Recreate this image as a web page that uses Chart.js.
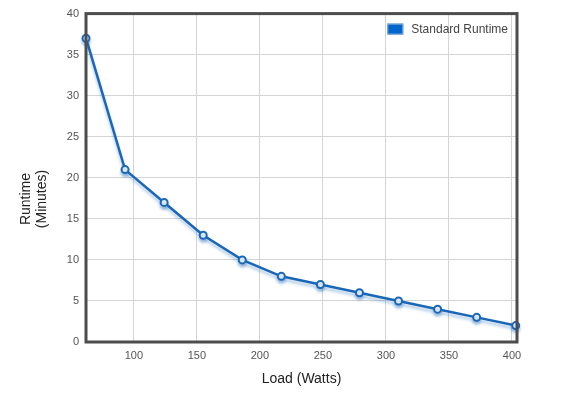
<!DOCTYPE html>
<html>
<head>
<meta charset="utf-8">
<script src="https://cdn.jsdelivr.net/npm/chart.js@4/dist/chart.umd.min.js"></script>
<style>
  html, body { margin: 0; padding: 0; background: #fff; }
  #wrap { width: 565px; height: 397px; }
</style>
</head>
<body>
<div id="wrap"><canvas id="myChart" width="565" height="397"></canvas></div>
<script>
// load in watts vs runtime in minutes
const loadWatts = [62, 93, 124, 155, 186, 217, 248, 279, 310, 341, 372, 403];
const runtimeMin = [37, 21, 17, 13, 10, 8, 7, 6, 5, 4, 3, 2];
const xTicks = [100, 150, 200, 250, 300, 350, 400];
const yTicks = [0, 5, 10, 15, 20, 25, 30, 35, 40];
const seriesName = 'Standard Runtime';

const lineBlue = '#1a67b8';
const fontFam = 'Liberation Sans, Arial, sans-serif';

// dark frame, legend box and axis titles
const framePlugin = {
  id: 'frame',
  afterDraw(chart) {
    const a = chart.chartArea;
    const ctx = chart.ctx;
    ctx.save();
    ctx.strokeStyle = '#4d4d4d';
    ctx.lineWidth = 3;
    ctx.strokeRect(a.left, a.top, a.right - a.left, a.bottom - a.top);

    // legend, top right inside plot
    ctx.font = '12px ' + fontFam;
    const tw = ctx.measureText(seriesName).width;
    const tx = a.right - 9 - tw;
    const bx = tx - 24;
    ctx.fillStyle = '#0066cc';
    ctx.fillRect(bx, a.top + 10, 16, 11);
    ctx.strokeStyle = '#8fb3dc';
    ctx.lineWidth = 1;
    ctx.strokeRect(bx + 0.5, a.top + 10.5, 15, 10);
    ctx.fillStyle = '#444';
    ctx.textBaseline = 'middle';
    ctx.textAlign = 'left';
    ctx.fillText(seriesName, tx, a.top + 16);

    // axis titles
    ctx.fillStyle = '#222';
    ctx.font = '14px ' + fontFam;
    ctx.textAlign = 'center';
    ctx.fillText('Load (Watts)', (a.left + a.right) / 2, 379);
    ctx.translate(0, 199);
    ctx.rotate(-Math.PI / 2);
    ctx.fillText('Runtime', 0, 26);
    ctx.fillText('(Minutes)', 0, 42);
    ctx.restore();
  }
};

// soft shadow under the line
const shadowPlugin = {
  id: 'lineShadow',
  beforeDatasetDraw(chart) {
    const ctx = chart.ctx;
    ctx.save();
    ctx.shadowColor = 'rgba(26, 103, 184, 0.35)';
    ctx.shadowOffsetY = 3;
    ctx.shadowBlur = 3;
  },
  afterDatasetDraw(chart) {
    chart.ctx.restore();
  }
};

const data = {
  datasets: [{
    label: seriesName,
    data: loadWatts.map((x, i) => ({ x: x, y: runtimeMin[i] })),
    borderColor: lineBlue,
    backgroundColor: '#0066cc',
    borderWidth: 2.5,
    pointRadius: 3.5,
    pointBorderWidth: 2,
    pointBackgroundColor: '#fff',
    pointBorderColor: lineBlue,
    tension: 0,
    clip: false
  }]
};

const config = {
  type: 'line',
  data: data,
  plugins: [shadowPlugin, framePlugin],
  options: {
    responsive: false,
    animation: false,
    layout: { padding: { left: 0, right: 48, top: 13, bottom: 0 } },
    plugins: {
      legend: { display: false },
      tooltip: { enabled: false }
    },
    scales: {
      x: {
        type: 'linear',
        min: 62,
        max: 404,
        afterBuildTicks: axis => { axis.ticks = xTicks.map(v => ({ value: v })); },
        afterFit: axis => { axis.height = 55; },
        grid: { color: '#d4d4d4', drawTicks: false },
        border: { display: false },
        ticks: {
          padding: 7,
          maxRotation: 0,
          color: '#555',
          font: { family: fontFam, size: 11 }
        }
      },
      y: {
        min: 0,
        max: 40,
        afterBuildTicks: axis => { axis.ticks = yTicks.map(v => ({ value: v })); },
        afterFit: axis => { axis.width = 86; },
        grid: { color: '#d4d4d4', drawTicks: false },
        border: { display: false },
        ticks: {
          padding: 7,
          color: '#555',
          font: { family: fontFam, size: 11 }
        }
      }
    }
  }
};

var myChart = new Chart(document.getElementById('myChart'), config);
</script>
</body>
</html>
